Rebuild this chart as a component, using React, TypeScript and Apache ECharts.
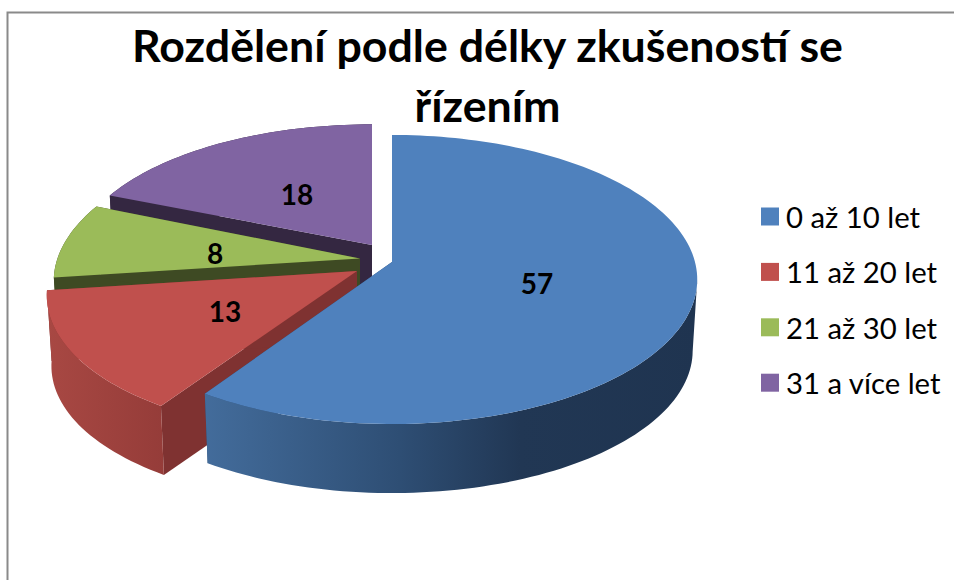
import React, { useEffect, useRef } from "react";
import * as echarts from "echarts";

const titleLines = ["Rozdělení podle délky zkušeností se", "řízením"];
const categories = ["0 až 10 let", "11 až 20 let", "21 až 30 let", "31 a více let"];
const values = [57, 13, 8, 18];
const topColors = ["#4F81BD", "#C0504D", "#9BBB59", "#8064A2"];
const FONT = "Lato, Carlito, sans-serif";

// Projection of the tilted pie
const RX = 303;
const RY = 142.4;
const PERSP = 0.121;
const DEPTH_SCALE = 0.985;

// Per-slice placement of the exploded wedges
const apexX = [392, 357, 360, 372];
const apexY = [262, 271, 258.5, 245];
const scaleX = [1, 1.01, 0.9985, 0.98];
const tiltX = [0, 0.045, 0.035, 0];
const scaleY = [1, 1.025, 1, 0.95];
const depth = [71.5, 71, 70, 70];
const labelX = [537, 225, 215, 297];
const labelY = [283, 311, 253, 194];
const cutColors = ["#2B4A70", "#7F3231", "#3E4A23", "#342741"];
const wallStops = [
  [
    [205, "#436C9B"],
    [400, "#2E4E74"],
    [520, "#213754"],
    [700, "#1F3450"],
  ],
  [
    [47, "#A84843"],
    [165, "#953C39"],
  ],
  [
    [50, "#3E4A23"],
    [360, "#3E4A23"],
  ],
  [
    [100, "#342741"],
    [380, "#342741"],
  ],
];

const total = values.reduce((a, b) => a + b, 0);

function project(deg: number) {
  const r = (deg * Math.PI) / 180;
  const u = Math.sin(r);
  const v = -Math.cos(r);
  const p = 1 / (1 - PERSP * v);
  return [RX * u * p, RY * v * p, v];
}

function renderSlice(i: number, startValue: number) {
  return (_params: any, api: any) => {
    const value = api.value(0);
    const a0 = (startValue / total) * 360;
    const a1 = ((startValue + value) / total) * 360;
    const n = Math.max(2, Math.ceil((a1 - a0) / 1.5));
    const offs = [];
    for (let k = 0; k <= n; k++) offs.push(project(a0 + ((a1 - a0) * k) / n));
    const ax = apexX[i];
    const ay = apexY[i];
    const sx = (v: number) => scaleX[i] + tiltX[i] * v;
    const top = offs.map(([x, y, v]) => [ax + x * sx(v), ay + y * scaleY[i]]);
    const bottom = offs.map(([x, y, v]) => [
      ax + x * sx(v) * DEPTH_SCALE,
      ay + depth[i] + y * scaleY[i] * DEPTH_SCALE,
    ]);
    // The outer wall is only seen from the rightmost point of the rim onwards.
    let first = 0;
    if (a0 < 90 && a1 > 90) {
      top.forEach((p, k) => {
        if (p[0] > top[first][0]) first = k;
      });
    }
    const bApex = [ax, ay + depth[i]];
    const stops = wallStops[i];
    const x0 = stops[0][0] as number;
    const x1 = stops[stops.length - 1][0] as number;
    const grad = new echarts.graphic.LinearGradient(
      x0,
      0,
      x1,
      0,
      stops.map((s) => ({ offset: ((s[0] as number) - x0) / (x1 - x0), color: s[1] as string })),
      true
    );
    const cut = (p: number[], q: number[]) => ({
      type: "polygon",
      shape: { points: [[ax, ay], p, q, bApex] },
      style: { fill: cutColors[i] },
      silent: true,
    });
    return {
      type: "group",
      children: [
        cut(top[0], bottom[0]),
        cut(top[n], bottom[n]),
        {
          type: "polygon",
          shape: { points: [...top.slice(first), ...bottom.slice(first).reverse()] },
          style: { fill: grad },
          silent: true,
        },
        {
          type: "polygon",
          shape: { points: [[ax, ay], ...top] },
          style: { fill: topColors[i] },
          silent: true,
        },
        {
          type: "text",
          silent: true,
          style: {
            text: String(value),
            x: labelX[i],
            y: labelY[i],
            textAlign: "center",
            textVerticalAlign: "middle",
            fill: "#000",
            font: `700 28px ${FONT}`,
          },
        },
      ],
    };
  };
}

export default function App() {
  const ref = useRef<HTMLDivElement>(null);
  useEffect(() => {
    const chart = echarts.init(ref.current!, null, { renderer: "svg" });
    const starts = values.map((_, i) => values.slice(0, i).reduce((a, b) => a + b, 0));
    const drawOrder = [3, 2, 1, 0];
    chart.setOption({
      animation: false,
      backgroundColor: "#fff",
      title: {
        text: titleLines.join("\n"),
        left: 482.5,
        top: 10,
        textAlign: "center",
        textStyle: { fontFamily: FONT, fontWeight: 700, fontSize: 44.7, lineHeight: 60, color: "#000" },
      },
      legend: {
        orient: "vertical",
        left: 761,
        top: 202,
        data: categories,
        icon: "rect",
        itemWidth: 18,
        itemHeight: 18,
        itemGap: 26.4,
        selectedMode: false,
        textStyle: { fontFamily: FONT, fontSize: 29.3, color: "#000", lineHeight: 28, padding: [0, 0, 0, 2] },
        padding: 0,
      },
      graphic: [
        {
          type: "polyline",
          silent: true,
          shape: { points: [[7.5, 580], [7.5, 12.5], [954, 12.5]] },
          style: { stroke: "#8A8A8A", lineWidth: 2, fill: "none" },
        },
      ],
      series: drawOrder.map((i) => ({
        type: "custom",
        name: categories[i],
        coordinateSystem: "none",
        silent: true,
        itemStyle: { color: topColors[i] },
        data: [[values[i]]],
        renderItem: renderSlice(i, starts[i]),
      })),
    });
    return () => chart.dispose();
  }, []);
  return <div ref={ref} style={{ position: "fixed", left: 0, top: 0, width: 954, height: 580 }} />;
}
